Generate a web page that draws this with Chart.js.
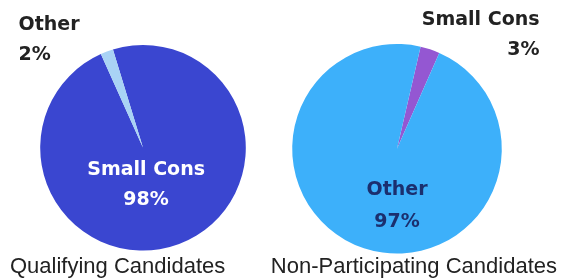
<!DOCTYPE html>
<html>
<head>
<meta charset="utf-8">
<script src="https://cdn.jsdelivr.net/npm/chart.js@4/dist/chart.umd.min.js"></script>
<style>
    body { margin: 0; background: #fff; }
    #wrap { position: relative; width: 561px; height: 280px; overflow: hidden; }
    #leftBox { position: absolute; left: 0; top: 0; }
    #rightBox { position: absolute; left: 230px; top: 0; }
</style>
</head>
<body>
<div id="wrap">
    <div id="leftBox"><canvas id="qualChart" width="286" height="280"></canvas></div>
    <div id="rightBox"><canvas id="nonPartChart" width="331" height="280"></canvas></div>
</div>
<script>
// data
const categories = ['Small Cons', 'Other'];
const qualifying = [98, 2];
const nonParticipating = [3, 97];
const chartTitles = ['Qualifying Candidates', 'Non-Participating Candidates'];

const DARK_BLUE = '#3a46d0';
const PALE_BLUE = '#a9d3f5';
const SKY = '#3db0fa';
const PURPLE = '#9457d2';
const INK = '#222222';
const NAVY = '#1b2f6e';

// draws name + percent for each slice, placed relative to pie centre in radius units
const sliceLabels = {
    id: 'sliceLabels',
    afterDatasetsDraw(chart, args, opts) {
        const ctx = chart.ctx;
        const meta = chart.getDatasetMeta(0);
        const values = chart.data.datasets[0].data;
        meta.data.forEach((arc, i) => {
            const p = opts.places[i];
            const r = arc.outerRadius;
            const x = arc.x + p.dx * r;
            const y = arc.y + p.dy * r;
            ctx.save();
            ctx.font = opts.font;
            ctx.fillStyle = p.color;
            ctx.textAlign = p.align;
            ctx.textBaseline = 'alphabetic';
            ctx.fillText(chart.data.labels[i], x, y);
            ctx.fillText(values[i] + '%', x, y + (p.gap || 30));
            ctx.restore();
        });
    }
};

function makePie(id, values, colors, rotation, title, align, padding, titlePad, places) {
    return new Chart(document.getElementById(id), {
        type: 'pie',
        data: {
            labels: categories,
            datasets: [{
                data: values,
                backgroundColor: colors,
                borderWidth: 0
            }]
        },
        options: {
            responsive: false,
            animation: false,
            rotation: rotation,
            layout: { padding: padding },
            plugins: {
                legend: { display: false },
                tooltip: { enabled: false },
                title: {
                    display: true,
                    text: title,
                    position: 'bottom',
                    align: align,
                    color: INK,
                    padding: titlePad,
                    font: { family: '"Liberation Sans", Arial, sans-serif', size: 22, weight: 'normal' }
                },
                sliceLabels: {
                    font: 'bold 19px "DejaVu Sans", sans-serif',
                    places: places
                }
            }
        },
        plugins: [sliceLabels]
    });
}

makePie('qualChart', qualifying, [DARK_BLUE, PALE_BLUE], -17,
    chartTitles[0], 'start',
    { top: 45, left: 10, right: 10, bottom: 0 },
    { top: 3, bottom: 0 },
    [
        { dx: 0.03, dy: 0.26, color: '#ffffff', align: 'center' },
        { dx: -1.21, dy: -1.146, color: INK, align: 'left' }
    ]);

makePie('nonPartChart', nonParticipating, [PURPLE, SKY], 13,
    chartTitles[1], 'end',
    { top: 44, left: 7, right: 4, bottom: 0 },
    { top: 0, bottom: 0 },
    [
        { dx: 1.36, dy: -1.18, color: INK, align: 'right' },
        { dx: 0, dy: 0.44, color: NAVY, align: 'center', gap: 32 }
    ]);
</script>
</body>
</html>
